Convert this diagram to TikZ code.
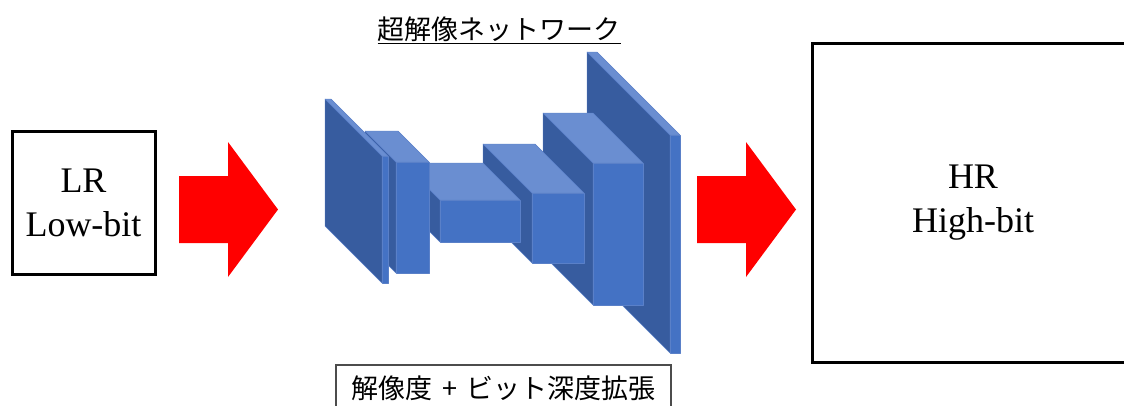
\documentclass[tikz,border=0pt]{standalone}
\usepackage{fontspec}
\setmainfont{Liberation Serif}
\newfontfamily\jpfont{Noto Sans CJK JP}

\definecolor{frontblue}{HTML}{4472C4}
\definecolor{topblue}{HTML}{6A8ED1}
\definecolor{sideblue}{HTML}{375C9F}
\definecolor{edgeblue}{HTML}{5A80C8}

% layer box: front face (x1,y1)-(x2,y2), depth going back up-left
\newcommand{\netblock}[5]{%
	\filldraw[layer,fill=sideblue] (#1,#2) -- ++(-#5,-#5) -- ++(0,#4-#2) -- (#1,#4) -- cycle;
	\filldraw[layer,fill=topblue] (#1,#2) -- ++(-#5,-#5) -- ++(#3-#1,0) -- (#3,#2) -- cycle;
	\filldraw[layer,fill=frontblue] (#1,#2) rectangle (#3,#4);
}
% fat red arrow, left end at x
\newcommand{\redarrow}[1]{%
	\fill[red] (#1,176) -- ++(49,0) -- ++(0,-34) -- ++(50,67.5) -- ++(-50,67.5) -- ++(0,-34) -- ++(-49,0) -- cycle;
}

\begin{document}
\begin{tikzpicture}[x=1pt,y=-1pt,
	layer/.style={draw=edgeblue,line width=0.4pt,line join=round},
	imgbox/.style={draw=black,line width=3pt,align=center,font=\fontsize{36}{44}\selectfont},
	jplabel/.style={font=\jpfont\fontsize{27}{30}\selectfont}]
	\useasboundingbox (0,0) rectangle (1124,405);
	\clip (0,0) rectangle (1124,405);

	\node[imgbox,minimum width=143,minimum height=143] (lr) at (83.5,202.5) {LR\\Low-bit};
	\node[imgbox,minimum width=322,minimum height=319] (hr) at (973,202.5) {HR\\High-bit};

	\redarrow{179}
	\redarrow{697}

	% network, drawn from the back (right) to the front (left)
	\netblock{670}{135}{680}{353}{83}
	\netblock{593}{163}{643}{305}{50}
	\netblock{532}{193}{584}{263}{49}
	\netblock{440}{200}{520}{242}{37}
	\netblock{396}{162}{429}{273}{31}
	\netblock{382}{156}{388}{283}{57}

	\node[jplabel] (title) at (499,30) {\underline{超解像ネットワーク}};
	\node[jplabel,draw=black!70,line width=1.2pt,minimum width=335,minimum height=46] (caption) at (503.5,388) {解像度\hspace{0.35em}+\hspace{0.35em}ビット深度拡張};
\end{tikzpicture}
\end{document}
